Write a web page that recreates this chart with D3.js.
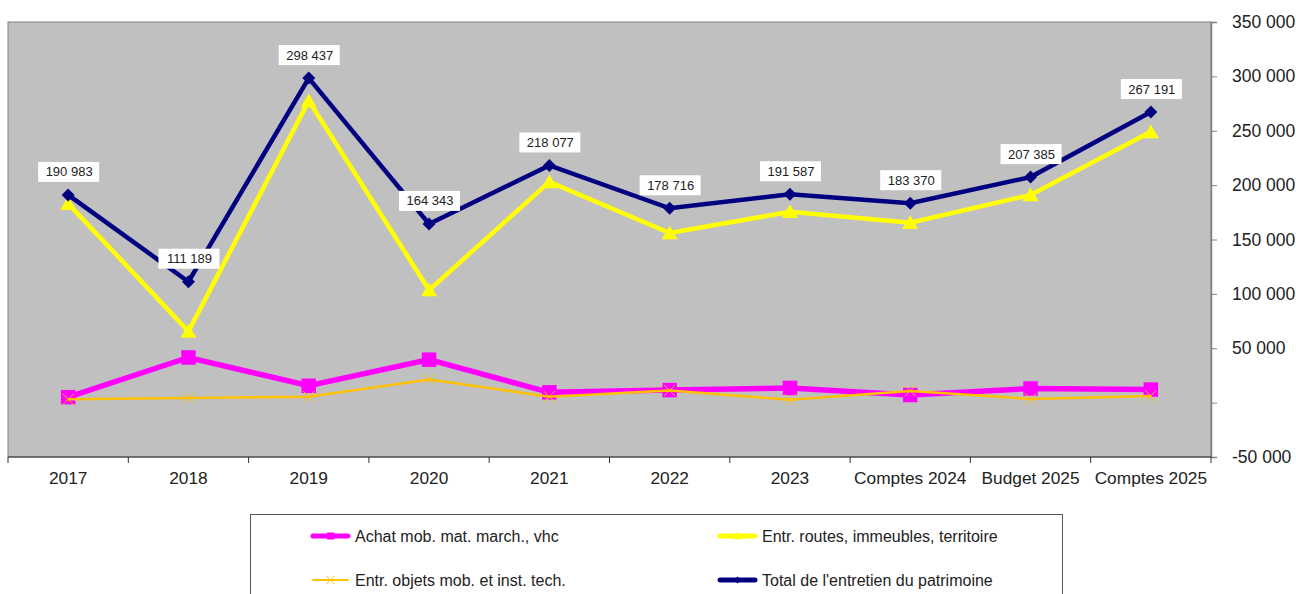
<!DOCTYPE html>
<html>
<head>
<meta charset="utf-8">
<script src="https://cdn.jsdelivr.net/npm/d3@7"></script>
<style>
  body { margin: 0; background: #fff; }
  svg { display: block; font-family: Arial, "Liberation Sans", sans-serif; }
</style>
</head>
<body>
<svg id="chart" width="1296" height="594"></svg>
<script>
// categories and series (values in CHF)
const categories = ["2017", "2018", "2019", "2020", "2021", "2022", "2023",
                    "Comptes 2024", "Budget 2025", "Comptes 2025"];
const achatMob = [5000, 41500, 15500, 39500, 9500, 11500, 13500, 7000, 13000, 12000];
const entrRoutes = [183000, 65500, 277500, 103500, 203000, 156000, 175500, 165500, 191000, 249000];
const entrObjets = [3000, 4200, 5400, 21300, 5500, 11200, 2600, 10800, 3400, 6200];
const totalEntretien = [190983, 111189, 298437, 164343, 218077, 178716, 191587, 183370, 207385, 267191];
const yTicks = [-50000, 0, 50000, 100000, 150000, 200000, 250000, 300000, 350000];

const series = [
  {name: "Achat mob. mat. march., vhc", values: achatMob, color: "#ff00ff", width: 5.5, marker: "square"},
  {name: "Entr. routes, immeubles, territoire", values: entrRoutes, color: "#ffff00", width: 4.5, marker: "triangle"},
  {name: "Entr. objets mob. et inst. tech.", values: entrObjets, color: "#ffc000", width: 2.5, marker: "cross"},
  {name: "Total de l'entretien du patrimoine", values: totalEntretien, color: "#000080", width: 4.5, marker: "diamond", labels: true}
];

const svg = d3.select("#chart");
const plot = {left: 8, right: 1211, top: 22, bottom: 457};

const fr = d3.formatLocale({decimal: ",", thousands: " ", grouping: [3], currency: ["", ""], minus: "-"});
const fmt = fr.format(",d");

const x = d3.scaleBand().domain(categories).range([plot.left, plot.right]).padding(0);
const y = d3.scaleLinear().domain([-50000, 350000]).range([plot.bottom, plot.top]);

//plot background
svg.append("rect")
  .attr("x", plot.left).attr("y", plot.top)
  .attr("width", plot.right - plot.left).attr("height", plot.bottom - plot.top)
  .attr("fill", "#c0c0c0").attr("stroke", "#808080").attr("stroke-width", 1);

//y axis on the right, 0 left blank like the original
const yAxis = svg.append("g")
  .attr("transform", `translate(${plot.right},0)`)
  .call(d3.axisRight(y).tickValues(yTicks).tickSize(6).tickPadding(15)
        .tickFormat(d => d === 0 ? "" : fmt(d)));
yAxis.select(".domain").attr("stroke", "#808080").attr("stroke-width", 1.5);
yAxis.selectAll(".tick line").attr("stroke", "#808080");
yAxis.selectAll("text").attr("font-size", 17.5).attr("fill", "#222").attr("font-family", "Arial, 'Liberation Sans', sans-serif");

//x axis at the bottom with ticks between categories
const xAxisG = svg.append("g").attr("transform", `translate(0,${plot.bottom})`);
xAxisG.append("line")
  .attr("x1", plot.left).attr("x2", plot.right)
  .attr("stroke", "#333").attr("stroke-width", 1.2);
const bounds = categories.map(c => x(c)).concat([plot.right]);
xAxisG.selectAll("line.tick").data(bounds).join("line")
  .attr("class", "tick")
  .attr("x1", d => d).attr("x2", d => d).attr("y1", 0).attr("y2", 6)
  .attr("stroke", "#333");
xAxisG.selectAll("text").data(categories).join("text")
  .attr("x", d => x(d) + x.bandwidth() / 2).attr("y", 27)
  .attr("text-anchor", "middle").attr("font-size", 17.3).attr("fill", "#222")
  .text(d => d);

function drawMarker(g, type, color, s) {
  if (type === "square") {
    g.append("rect").attr("x", -s / 2).attr("y", -s / 2).attr("width", s).attr("height", s).attr("fill", color);
  } else if (type === "triangle") {
    const h = s * 0.9;
    g.append("path").attr("d", `M0,${-h / 2 - 1}L${s / 2 + 1},${h / 2}L${-s / 2 - 1},${h / 2}Z`).attr("fill", color);
  } else if (type === "diamond") {
    g.append("path").attr("d", `M0,${-s / 2}L${s / 2},0L0,${s / 2}L${-s / 2},0Z`).attr("fill", color);
  } else if (type === "cross") {
    g.append("path").attr("d", `M${-s / 2},${-s / 2}L${s / 2},${s / 2}M${s / 2},${-s / 2}L${-s / 2},${s / 2}`)
      .attr("stroke", color).attr("stroke-width", 1).attr("fill", "none");
  }
}
const markerSize = {square: 14.5, triangle: 14, diamond: 13, cross: 11};

const line = d3.line().x((d, i) => x(categories[i]) + x.bandwidth() / 2).y(d => y(d));

series.forEach(s => {
  const g = svg.append("g");
  g.append("path").datum(s.values)
    .attr("d", line).attr("fill", "none")
    .attr("stroke", s.color).attr("stroke-width", s.width).attr("stroke-linejoin", "miter");
  s.values.forEach((v, i) => {
    const m = g.append("g").attr("transform", `translate(${x(categories[i]) + x.bandwidth() / 2},${y(v)})`);
    drawMarker(m, s.marker, s.color, markerSize[s.marker]);
  });
});

//data labels on the total
const lab = series[3];
const labG = svg.append("g");
lab.values.forEach((v, i) => {
  const cx = x(categories[i]) + x.bandwidth() / 2, cy = y(v) - 23;
  labG.append("rect").attr("x", cx - 30).attr("y", cy - 10).attr("width", 61).attr("height", 20).attr("fill", "#fff");
  labG.append("text").attr("x", cx + 1).attr("y", cy + 4.5).attr("text-anchor", "middle")
    .attr("font-size", 13).attr("fill", "#222").text(fmt(v));
});

//legend
const leg = svg.append("g");
leg.append("rect").attr("x", 250.5).attr("y", 514.5).attr("width", 812).attr("height", 100)
  .attr("fill", "#fff").attr("stroke", "#555").attr("stroke-width", 1);
const legPos = [[313, 536], [720, 536], [313, 580], [720, 580]];
series.forEach((s, i) => {
  const [lx, ly] = legPos[i];
  const g = leg.append("g").attr("transform", `translate(${lx},${ly})`);
  g.append("line").attr("x1", 0).attr("x2", 35).attr("stroke", s.color)
    .attr("stroke-width", s.marker === "cross" ? 2 : 5).attr("stroke-linecap", "round");
  const m = g.append("g").attr("transform", "translate(17.5,0)");
  drawMarker(m, s.marker, s.color, s.marker === "cross" ? 8 : 7);
  g.append("text").attr("x", 42).attr("y", 5.5).attr("font-size", 16).attr("fill", "#222").text(s.name);
});
</script>
</body>
</html>
